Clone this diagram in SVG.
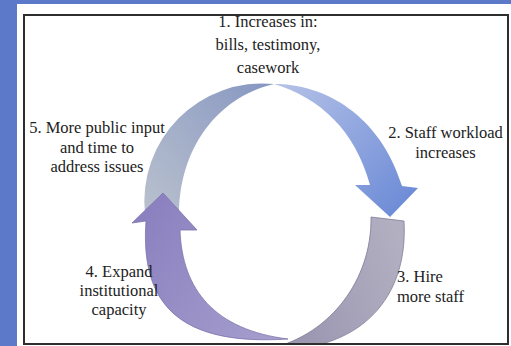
<svg xmlns="http://www.w3.org/2000/svg" width="511" height="346" viewBox="0 0 511 346">
<defs>
<style>
.lbl{font-family:"Liberation Serif","Times New Roman",serif;font-size:16.5px;fill:#222}
.mid{text-anchor:middle}
</style>
<linearGradient id="gTL" gradientUnits="userSpaceOnUse" x1="145" y1="200" x2="274" y2="90"><stop offset="0" stop-color="#b7bfcd"/><stop offset="1" stop-color="#8797c2"/></linearGradient>
<linearGradient id="gTR" gradientUnits="userSpaceOnUse" x1="280" y1="84" x2="410" y2="210"><stop offset="0" stop-color="#b4c1e7"/><stop offset="1" stop-color="#6b8ad6"/></linearGradient>
<linearGradient id="gBR" gradientUnits="userSpaceOnUse" x1="290" y1="300" x2="405" y2="260"><stop offset="0" stop-color="#9b97b2"/><stop offset="1" stop-color="#b2afc1"/></linearGradient>
<linearGradient id="gBL" gradientUnits="userSpaceOnUse" x1="140" y1="220" x2="290" y2="330"><stop offset="0" stop-color="#8c81c0"/><stop offset="1" stop-color="#a59fcd"/></linearGradient>
<clipPath id="box"><rect x="24" y="15" width="484" height="329"/></clipPath>
</defs>
<rect width="511" height="346" fill="#5b79c8"/>
<rect x="17" y="4" width="494" height="342" fill="#fff"/>
<g id="connectors" clip-path="url(#box)">
<path id="arrow-5-1" d="M145,214 A118,118 0 0 1 274,84 C225,95 180,140 179,214 Z" fill="url(#gTL)"/>
<path id="arrow-4-5" d="M163,193 L197,230 L180,230 C182,290 215,330 288,339 C180,346 140,305 146,221 L132,223 Z" fill="url(#gBL)" stroke="#7d73ad" stroke-width="0.8"/>
<path id="arrow-3-4" d="M371,217 L404,221 C408,290 370,345 285,350 L272,348 C330,334 372,280 371,217 Z" fill="url(#gBR)" stroke="#7f7b95" stroke-width="0.8"/>
<path id="arrow-1-2" d="M274,84 C325,84 380,115 402,186 L418,188 L390,217 L355,185 L370,185 C355,130 320,98 274,84 Z" fill="url(#gTR)"/>
</g>
<rect x="24" y="15" width="484" height="329" fill="none" stroke="#2e2e2e" stroke-width="2"/>
<g id="node-1" class="lbl mid"><text x="268" y="27">1. Increases in:</text><text x="268" y="50">bills, testimony,</text><text x="268" y="73">casework</text></g>
<g id="node-2" class="lbl mid"><text x="445.5" y="138">2. Staff workload</text><text x="445.5" y="158">increases</text></g>
<g id="node-3" class="lbl"><text x="397" y="282">3. Hire</text><text x="397" y="302">more staff</text></g>
<g id="node-4" class="lbl mid"><text x="119" y="277">4. Expand</text><text x="119" y="296">institutional</text><text x="119" y="315">capacity</text></g>
<g id="node-5" class="lbl mid"><text x="97" y="133">5. More public input</text><text x="97" y="152.5">and time to</text><text x="97" y="172">address issues</text></g>
</svg>
